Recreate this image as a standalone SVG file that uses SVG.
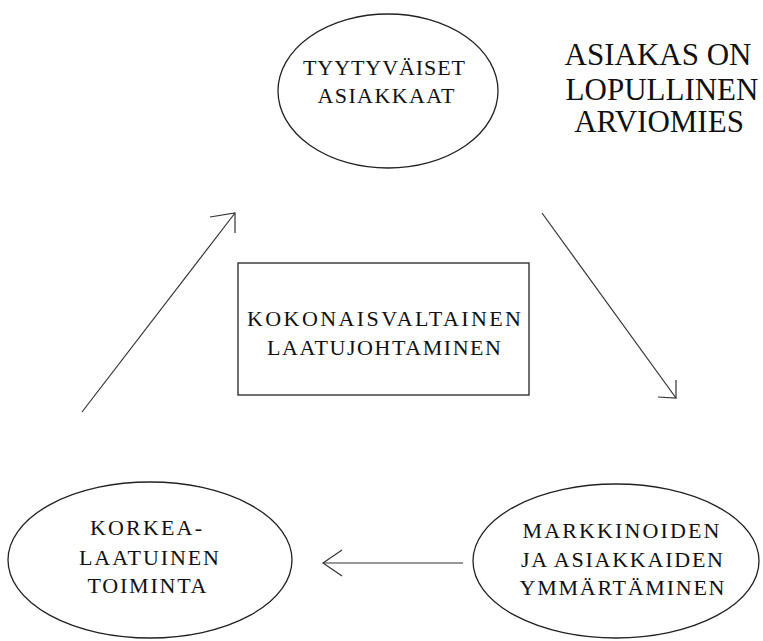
<svg xmlns="http://www.w3.org/2000/svg" width="763" height="641" viewBox="0 0 763 641">
<style>
.shape{fill:#fff;stroke:#222;stroke-width:1.3}
.ln{fill:none;stroke:#333;stroke-width:1.2}
.t{font-family:"Liberation Serif","Times New Roman",serif;font-size:22px;fill:#111;text-anchor:middle}
.s{font-family:"Liberation Serif","Times New Roman",serif;font-size:31px;fill:#111;text-anchor:middle}
</style>
<rect width="763" height="641" fill="#fff"/>
<g id="connectors">
<path class="ln" d="M82,412 L235,213"/>
<path class="ln" d="M210,217 L235,213 L235,233"/>
<path class="ln" d="M542,213 L676,398"/>
<path class="ln" d="M676,380 L676,398 L658,397"/>
<path class="ln" d="M463,563 L323,563"/>
<path class="ln" d="M342,550 L323,563 L342,576"/>
</g>
<g id="tyytyvaiset">
<ellipse class="shape" cx="388" cy="91" rx="110" ry="77"/>
<text class="t" x="384" y="75" textLength="162">TYYTYVÄISET</text>
<text class="t" x="386" y="103" textLength="137">ASIAKKAAT</text>
</g>
<g id="note">
<text class="s" x="658" y="65">ASIAKAS ON</text>
<text class="s" x="662" y="100">LOPULLINEN</text>
<text class="s" x="659" y="132">ARVIOMIES</text>
</g>
<g id="tqm">
<rect class="shape" x="238" y="263" width="291" height="132"/>
<text class="t" x="384" y="326" textLength="274">KOKONAISVALTAINEN</text>
<text class="t" x="384" y="355" textLength="234">LAATUJOHTAMINEN</text>
</g>
<g id="korkealaatuinen">
<ellipse class="shape" cx="150" cy="560" rx="142" ry="78"/>
<text class="t" x="146" y="535" textLength="112">KORKEA-</text>
<text class="t" x="149" y="565" textLength="140">LAATUINEN</text>
<text class="t" x="147" y="593" textLength="119">TOIMINTA</text>
</g>
<g id="markkinoiden">
<ellipse class="shape" cx="616" cy="561" rx="143" ry="77"/>
<text class="t" x="621" y="538" textLength="197">MARKKINOIDEN</text>
<text class="t" x="622" y="567" textLength="202">JA ASIAKKAIDEN</text>
<text class="t" x="622" y="595" textLength="205">YMMÄRTÄMINEN</text>
</g>
</svg>
